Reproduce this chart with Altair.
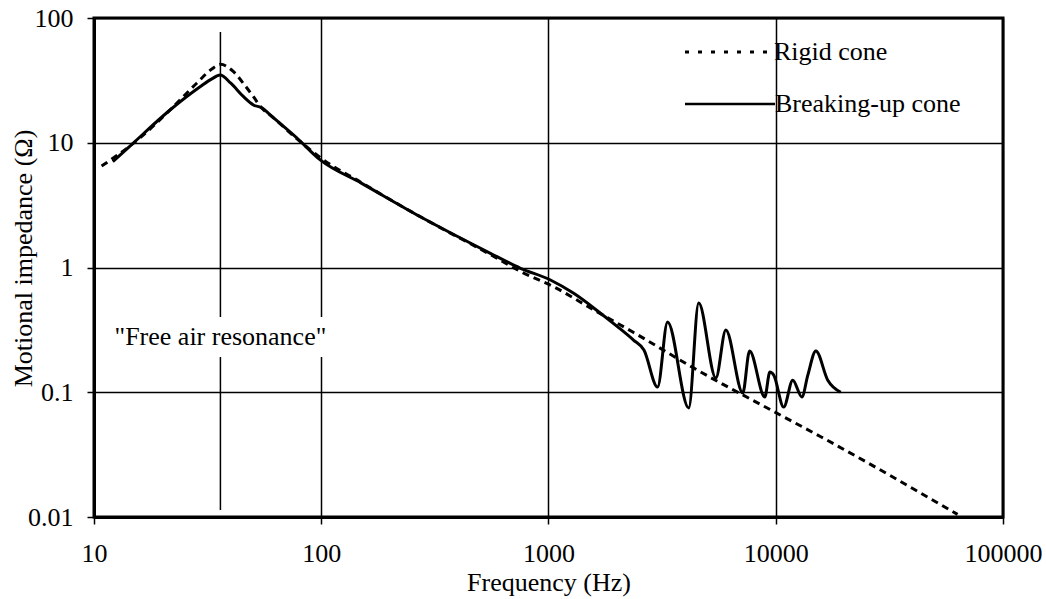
import altair as alt
import pandas as pd

# Motional impedance of a loudspeaker drive unit, rigid vs. breaking-up cone
rigid_freq = [10.8, 15.9, 21.6, 28.3, 33, 36, 41.1, 46, 50.3, 54.8, 60, 78,
              100, 150, 273, 555, 753, 1055, 1585, 2380, 4365, 9840, 15780, 63100]
rigid_z = [6.5, 10.9, 18.3, 30, 39, 42.5, 37.1, 29, 23.4, 18.9, 16.5, 10.8,
           7.5, 4.8, 2.55, 1.27, 0.93, 0.70, 0.456, 0.30, 0.156, 0.0698, 0.044, 0.0105]

breakup_freq = [12.1, 14.4, 21.6, 29.3, 33, 35.9, 40, 45.5, 50.3, 55, 59.6, 78.2,
                99, 150, 273, 555, 753, 1020, 1291, 1694, 2010, 2366, 2630,
                3020, 3341, 4140, 4580, 5450, 6030, 7160, 7670, 8950, 9420,
                9800, 10840, 11880, 13030, 13840, 15010, 16940, 19320]
breakup_z = [7.05, 9.4, 18.3, 28.1, 32.5, 34.9, 30, 23.4, 20.1, 19, 16.7, 10.9,
             7.28, 4.75, 2.55, 1.30, 0.986, 0.794, 0.621, 0.43, 0.336, 0.262, 0.218,
             0.11, 0.366, 0.0748, 0.519, 0.130, 0.315, 0.0986, 0.214, 0.0916, 0.145,
             0.137, 0.076, 0.125, 0.0916, 0.137, 0.214, 0.125, 0.10]

x_ticks = [10, 100, 1000, 10000, 100000]
y_ticks = [0.01, 0.1, 1, 10, 100]

resonance_freq = 36
resonance_label = '"Free air resonance"'
resonance_label_z = 0.277

legend_names = ["Rigid cone", "Breaking-up cone"]

FONT = "Liberation Serif"
W, H = 909, 499

rigid = pd.DataFrame({"f": rigid_freq, "z": rigid_z})
breakup = pd.DataFrame({"f": breakup_freq, "z": breakup_z})

common_axis = dict(
    labelFont=FONT, labelFontSize=26, labelColor="black", labelFlush=False,
    titleFont=FONT, titleFontSize=26, titleFontWeight="normal", titleColor="black",
    tickColor="black", tickSize=7, tickWidth=1.5,
    domainColor="black", domainWidth=3,
    gridColor="black", gridWidth=1.5, gridOpacity=1,
    format="~g",
)

x_enc = alt.X(
    "f:Q",
    scale=alt.Scale(type="log", domain=[10, 100000]),
    axis=alt.Axis(values=x_ticks, title="Frequency (Hz)", labelPadding=16,
                  titleY=73, titleBaseline="alphabetic", **common_axis),
)
y_enc = alt.Y(
    "z:Q",
    scale=alt.Scale(type="log", domain=[0.01, 100]),
    axis=alt.Axis(values=y_ticks, title="Motional impedance (Ω)", labelPadding=14,
                  titleX=-63, titleY=240, titleAngle=-90, titleAlign="center",
                  titleBaseline="alphabetic", **common_axis),
)

rigid_line = alt.Chart(rigid).mark_line(
    color="black", strokeWidth=3, strokeDash=[7, 5], interpolate="monotone"
).encode(x=x_enc, y=y_enc)

breakup_line = alt.Chart(breakup).mark_line(
    color="black", strokeWidth=3, interpolate="monotone"
).encode(x=x_enc, y=y_enc)

# vertical marker at the free air resonance
res_df = pd.DataFrame({"f": [resonance_freq], "z": [resonance_label_z],
                       "label": [resonance_label]})
res_rule = alt.Chart(res_df).mark_rule(color="black", strokeWidth=1.5).encode(
    x=x_enc, y=alt.value(14), y2=alt.value(492)
)
label_bg = alt.Chart(res_df).mark_rect(color="white").encode(
    x=alt.value(14), x2=alt.value(240), y=alt.value(299), y2=alt.value(339)
)
res_text = alt.Chart(res_df).mark_text(
    font=FONT, fontSize=26, color="black", align="center", baseline="middle"
).encode(x=x_enc, y=y_enc, text="label:N")

# legend drawn inside the plot, top right
one = pd.DataFrame({"k": [0]})
leg_rigid = alt.Chart(one).mark_rule(color="black", strokeWidth=3, strokeDash=[4, 9]).encode(
    x=alt.value(591), x2=alt.value(676), y=alt.value(34)
)
leg_breakup = alt.Chart(one).mark_rule(color="black", strokeWidth=2.5).encode(
    x=alt.value(591), x2=alt.value(681), y=alt.value(86)
)
leg_text1 = alt.Chart(one).mark_text(
    font=FONT, fontSize=26, color="black", align="left", baseline="middle"
).encode(x=alt.value(680), y=alt.value(34), text=alt.value(legend_names[0]))
leg_text2 = alt.Chart(one).mark_text(
    font=FONT, fontSize=26, color="black", align="left", baseline="middle"
).encode(x=alt.value(681), y=alt.value(86), text=alt.value(legend_names[1]))

chart = alt.layer(
    res_rule, label_bg, res_text, rigid_line, breakup_line,
    leg_rigid, leg_breakup, leg_text1, leg_text2,
).properties(
    width=W, height=H,
    autosize=alt.AutoSizeParams(type="none"),
    padding={"left": 94, "top": 18, "right": 43, "bottom": 82},
    background="white",
).configure_view(
    stroke="black", strokeWidth=3
)

chart.save("out.html", embed_options={"renderer": "svg", "actions": False})
